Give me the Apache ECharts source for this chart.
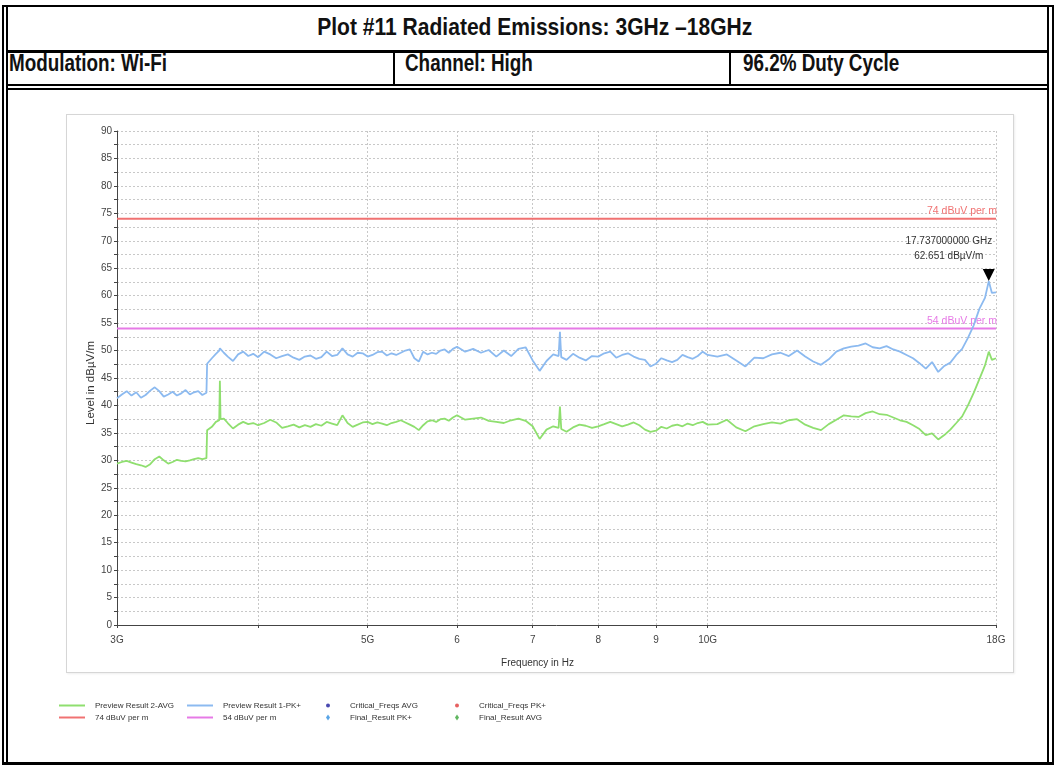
<!DOCTYPE html>
<html><head><meta charset="utf-8">
<script src="https://cdn.jsdelivr.net/npm/echarts@6/dist/echarts.min.js"></script>
<style>
html,body{margin:0;padding:0;background:#fff;width:1055px;height:765px;overflow:hidden;}
.b{position:absolute;background:#000;}
.t{position:absolute;font-family:'Liberation Sans',Arial,sans-serif;font-weight:bold;font-size:23px;line-height:23px;color:#111;white-space:nowrap;}
.t span{display:inline-block;transform:scaleX(0.82);}
#panel{position:absolute;left:66px;top:114px;width:946px;height:557px;border:1px solid #d6d6d6;box-shadow:1px 1px 2px #eee;}
#chart{position:absolute;left:0;top:0;width:1055px;height:765px;}
</style></head><body>
<div class="b" style="left:2px;top:5px;width:1052px;height:2px"></div>
<div class="b" style="left:2px;top:5px;width:2px;height:760px"></div>
<div class="b" style="left:6px;top:7px;width:2px;height:758px"></div>
<div class="b" style="left:1052px;top:5px;width:2px;height:760px"></div>
<div class="b" style="left:1047px;top:7px;width:2px;height:758px"></div>
<div class="b" style="left:6px;top:50px;width:1043px;height:3px"></div>
<div class="b" style="left:6px;top:84px;width:1043px;height:2px"></div>
<div class="b" style="left:6px;top:88px;width:1043px;height:2px"></div>
<div class="b" style="left:393px;top:53px;width:2px;height:33px"></div>
<div class="b" style="left:729px;top:53px;width:2px;height:33px"></div>
<div class="b" style="left:2px;top:762px;width:1052px;height:3px"></div>
<div class="t" style="left:7px;width:1055px;text-align:center;top:16px"><span style="transform-origin:center;transform:scaleX(0.915)">Plot #11 Radiated Emissions: 3GHz –18GHz</span></div>
<div class="t" style="left:9px;top:52px"><span style="transform-origin:left">Modulation: Wi-Fi</span></div>
<div class="t" style="left:405px;top:52px"><span style="transform-origin:left">Channel: High</span></div>
<div class="t" style="left:743px;top:52px"><span style="transform-origin:left">96.2% Duty Cycle</span></div>
<div id="panel"></div>
<div id="chart"></div>
<script>
// ---- data ----
const freqGHz = [
 3.00,3.03,3.06,3.09,3.12,3.15,3.18,3.21,3.24,3.27,3.30,3.33,3.36,3.39,3.42,3.45,3.48,3.51,3.54,3.57,3.60,
 3.605,3.64,3.67,3.695,3.70,3.705,3.73,3.76,3.80,3.84,3.88,3.92,3.96,4.00,
 4.05,4.10,4.15,4.20,4.25,4.30,4.35,4.40,4.45,4.50,4.55,4.60,4.65,4.70,4.75,4.80,4.85,4.90,4.95,5.00,
 5.05,5.10,5.15,5.20,5.25,5.30,5.35,5.40,5.45,5.50,5.55,5.60,5.65,5.70,5.75,5.80,5.85,5.90,5.95,6.00,
 6.1,6.2,6.3,6.4,6.5,6.6,6.7,6.8,6.9,7.0,7.1,7.2,7.3,7.38,7.40,7.42,
 7.5,7.6,7.7,7.8,7.9,8.0,8.1,8.2,8.3,8.4,8.5,8.6,8.7,8.8,8.9,9.0,9.1,9.2,9.3,9.4,9.5,9.6,9.7,9.8,9.9,10.0,
 10.2,10.4,10.6,10.8,11.0,11.2,11.4,11.6,11.8,12.0,12.2,12.4,12.6,12.8,13.0,13.2,13.4,13.6,13.8,14.0,
 14.2,14.4,14.6,14.8,15.0,15.2,15.4,15.6,15.8,16.0,16.2,16.4,16.6,16.8,17.0,17.2,17.4,17.6,17.737,17.85,18.0
];
const pkLevel = [
 41.3,42.0,42.6,41.8,42.4,41.4,41.9,42.7,43.3,42.6,41.6,42.0,42.5,41.8,42.2,42.8,42.0,42.4,42.6,41.9,42.3,
 47.6,48.6,49.4,50.0,50.4,50.2,49.6,48.9,48.1,49.3,49.8,49.0,49.4,48.8,
 49.8,49.3,48.6,49.0,49.3,48.7,48.3,48.9,49.1,48.5,48.8,49.8,49.0,49.2,50.4,49.3,48.9,49.6,49.5,48.9,
 49.2,49.7,49.8,49.1,49.5,49.2,49.6,50.0,50.2,48.6,48.0,49.8,49.3,49.6,49.4,50.0,50.2,49.6,50.3,50.7,
 49.8,50.3,49.6,50.1,48.9,50.0,49.0,50.3,50.6,48.2,46.3,48.1,49.3,49.0,53.4,48.8,
 48.3,49.4,48.7,48.2,49.0,48.9,49.5,49.8,48.7,49.2,49.5,48.9,48.5,48.3,47.1,47.6,48.6,48.2,47.9,48.3,49.2,48.8,48.5,49.0,49.8,49.2,
 48.9,49.3,48.2,47.1,48.7,48.6,49.3,49.6,49.0,50.0,48.9,48.0,47.4,48.4,49.8,50.4,50.7,50.9,51.3,50.6,
 50.4,50.8,50.2,49.8,49.2,48.6,47.7,46.7,47.9,46.1,47.2,47.8,49.2,50.3,52.3,54.6,57.6,59.6,62.651,60.5,60.6
];
const avgLevel = [
 29.4,29.7,29.9,29.6,29.3,29.1,28.8,29.3,30.2,30.7,30.0,29.4,29.7,30.1,29.9,29.8,30.0,30.2,30.4,30.2,30.4,
 35.5,36.1,37.0,37.3,44.5,37.5,37.6,36.8,35.8,36.5,37.0,36.6,36.8,36.4,
 36.8,37.4,36.9,35.9,36.2,36.5,36.0,36.4,36.1,36.6,36.3,37.0,36.7,36.4,38.2,36.8,36.1,36.5,36.9,37.0,
 36.6,36.9,36.7,36.4,36.8,37.0,37.3,36.9,36.5,36.1,35.5,36.4,37.1,37.3,37.0,37.5,37.6,37.2,37.8,38.2,
 37.4,37.6,37.8,37.2,37.0,36.8,37.3,37.6,37.2,36.2,33.9,35.6,36.2,35.9,39.8,35.7,
 35.2,36.0,36.5,36.3,35.9,36.2,36.6,37.0,36.6,36.2,36.5,36.9,36.4,35.6,35.2,35.4,36.1,35.8,36.3,36.5,36.2,36.7,36.4,36.8,37.0,36.5,
 36.6,37.4,36.0,35.3,36.2,36.6,36.9,36.7,37.3,37.5,36.5,35.9,35.5,36.6,37.4,38.2,38.0,37.9,38.6,38.9,
 38.4,38.3,37.8,37.3,37.0,36.4,35.7,34.6,34.9,33.8,34.6,35.6,36.8,38.0,40.0,42.3,44.8,47.3,49.8,48.3,48.6
];
const limitFreqs = [3, 18];
const limit74 = [74, 74];
const limit54 = [54, 54];
const limitNames = ['74 dBuV per m', '54 dBuV per m'];
const xTickValues = [3, 4, 5, 6, 7, 8, 9, 10, 18];
const xTickLabels = ['3G', '', '5G', '6', '7', '8', '9', '10G', '18G'];
const peakFreq = 17.737, peakLevel = 62.651;
const peakText = ['17.737000000 GHz', '62.651 dBµV/m'];

// ---- styles ----
const C_PK = '#8cbaf0', C_AVG = '#8fdf6f', C_74 = '#f07272', C_54 = '#e67ae6';
const FONT = "'Liberation Sans', Arial, sans-serif";
const pairs = (xs, ys) => xs.map((x, i) => [x, ys[i]]);
function limitData(vals, color) {
  const d = pairs(limitFreqs, vals);
  const last = d.length - 1;
  return d.map((p, i) => i === last ? { value: p, label: { show: true, position: 'top', align: 'right', offset: [1, 0], distance: 2, formatter: '{a}', color: color, fontSize: 10.5, fontFamily: FONT } } : p);
}
function tickLabel(v) {
  let best = 0;
  xTickValues.forEach((t, i) => { if (Math.abs(t - v) < Math.abs(xTickValues[best] - v)) best = i; });
  return xTickLabels[best];
}
const chart = echarts.init(document.getElementById('chart'), null, { renderer: 'canvas' });
const legText = { fontSize: 8, color: '#333', fontFamily: FONT, lineHeight: 11 };
chart.setOption({
  animation: false,
  backgroundColor: 'transparent',
  textStyle: { fontFamily: FONT },
  grid: { left: 117, right: 59, top: 131, bottom: 140, containLabel: false },
  legend: [
    { data: ['Preview Result 2-AVG', limitNames[0]], left: 59, top: 700, orient: 'vertical', padding: 0, itemGap: 1, itemWidth: 26, itemHeight: 2, icon: 'rect', selectedMode: false, textStyle: Object.assign({ padding: [0, 0, 0, 5] }, legText) },
    { data: ['Preview Result 1-PK+', limitNames[1]], left: 187, top: 700, orient: 'vertical', padding: 0, itemGap: 1, itemWidth: 26, itemHeight: 2, icon: 'rect', selectedMode: false, textStyle: Object.assign({ padding: [0, 0, 0, 5] }, legText) },
    { data: [{ name: 'Critical_Freqs AVG', icon: 'circle' }, { name: 'Final_Result PK+', icon: 'diamond' }], left: 326, top: 700, orient: 'vertical', padding: 0, itemGap: 1, itemWidth: 4, itemHeight: 6, selectedMode: false, textStyle: Object.assign({ padding: [0, 0, 0, 15] }, legText) },
    { data: [{ name: 'Critical_Freqs PK+', icon: 'circle' }, { name: 'Final_Result AVG', icon: 'diamond' }], left: 455, top: 700, orient: 'vertical', padding: 0, itemGap: 1, itemWidth: 4, itemHeight: 6, selectedMode: false, textStyle: Object.assign({ padding: [0, 0, 0, 15] }, legText) }
  ],
  xAxis: {
    type: 'log', logBase: 10, min: 3, max: 18,
    name: 'Frequency in Hz', nameLocation: 'middle', nameGap: 33,
    nameTextStyle: { fontSize: 10, color: '#333', padding: [0, 38, 0, 0] },
    axisLine: { show: true, onZero: false, lineStyle: { color: '#444', width: 1 } },
    axisTick: { show: true, length: 3, customValues: xTickValues, lineStyle: { color: '#444' } },
    axisLabel: { customValues: xTickValues.filter((v, i) => xTickLabels[i] !== ''), formatter: v => tickLabel(v), fontSize: 10, color: '#444', margin: 10 },
    splitLine: { show: true, lineStyle: { color: '#c8c8c8', type: [2, 2], width: 1 } },
    minorTick: { show: false }, minorSplitLine: { show: false }
  },
  yAxis: {
    type: 'value', min: 0, max: 90, interval: 5,
    name: 'Level in dBµV/m', nameLocation: 'middle', nameGap: 20, nameMoveOverlap: false,
    nameTextStyle: { fontSize: 11.5, color: '#333', padding: [0, 10, 0, 0] },
    axisLine: { show: true, lineStyle: { color: '#444', width: 1 } },
    axisTick: { show: true, length: 3, lineStyle: { color: '#444' } },
    minorTick: { show: true, splitNumber: 2, length: 3, lineStyle: { color: '#444' } },
    axisLabel: { fontSize: 10, color: '#444', margin: 5 },
    splitLine: { show: true, lineStyle: { color: '#c8c8c8', type: [2, 2], width: 1 } },
    minorSplitLine: { show: true, lineStyle: { color: '#c8c8c8', type: [2, 2], width: 1 } }
  },
  series: [
    { name: 'Preview Result 2-AVG', type: 'line', data: pairs(freqGHz, avgLevel), symbol: 'none', color: C_AVG, lineStyle: { color: C_AVG, width: 1.8 }, silent: true, z: 3 },
    { name: 'Preview Result 1-PK+', type: 'line', data: pairs(freqGHz, pkLevel), symbol: 'none', color: C_PK, lineStyle: { color: C_PK, width: 1.8 }, silent: true, z: 3,
      markPoint: { silent: true, animation: false, data: [{ coord: [peakFreq, peakLevel], symbol: 'path://M0,0 L12,0 L6,12 Z', symbolSize: [12, 12], symbolOffset: [0, '-50%'], itemStyle: { color: '#000' },
        label: { show: true, position: 'top', distance: 5, offset: [-40, 0], formatter: peakText.join('\n'), color: '#333', fontSize: 10, lineHeight: 15, align: 'center', fontFamily: FONT } }] } },
    { name: limitNames[0], type: 'line', data: limitData(limit74, C_74), symbol: 'circle', symbolSize: 0, showSymbol: true, color: C_74, lineStyle: { color: C_74, width: 2 }, silent: true, z: 2 },
    { name: limitNames[1], type: 'line', data: limitData(limit54, C_54), symbol: 'circle', symbolSize: 0, showSymbol: true, color: C_54, lineStyle: { color: C_54, width: 2 }, silent: true, z: 2 },
    { name: 'Critical_Freqs AVG', type: 'scatter', data: [], color: '#1c1c9c' },
    { name: 'Final_Result PK+', type: 'scatter', data: [], color: '#2f8ee0' },
    { name: 'Critical_Freqs PK+', type: 'scatter', data: [], color: '#e03a3a' },
    { name: 'Final_Result AVG', type: 'scatter', data: [], color: '#3aa53a' }
  ]
});
</script>
</body></html>
